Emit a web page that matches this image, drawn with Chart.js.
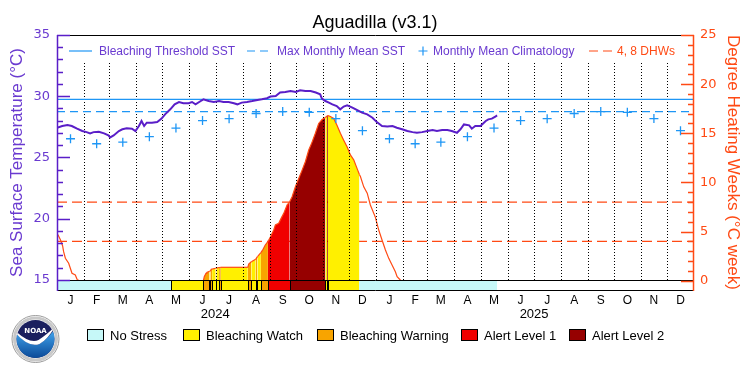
<!DOCTYPE html>
<html>
<head>
<meta charset="utf-8">
<script src="https://cdn.jsdelivr.net/npm/chart.js@4.4.0/dist/chart.umd.min.js"></script>
<style>
  html, body { margin: 0; padding: 0; background: #fff; }
  #wrap { width: 750px; height: 375px; }
</style>
</head>
<body>
<div id="wrap"><canvas id="chart" width="750" height="375"></canvas></div>
<script>
// Days are counted from 1 Jan 2024 (day 0); the axis covers 2024 and 2025.
const monthLetters = ['J', 'F', 'M', 'A', 'M', 'J', 'J', 'A', 'S', 'O', 'N', 'D'];
const years = ['2024', '2025'];

// Monthly mean climatology (°C), Jan..Dec
const climatology = [26.53, 26.12, 26.25, 26.70, 27.40, 28.01, 28.17, 28.59, 28.75, 28.69, 28.18, 27.19];
const maxMonthlyMean = 28.75;
const bleachingThreshold = 29.75;
const dhwLevels = [4, 8];

// Daily SST (°C): [day, value]
const sst = [
  [0, 27.43], [6, 27.57], [12, 27.65], [17, 27.57], [23, 27.35], [29, 27.16], [34, 27.07],
  [38, 26.97], [42, 27.07], [48, 27.10], [54, 26.97], [59, 26.80], [61, 26.64], [65, 26.80],
  [71, 27.16], [75, 27.30], [80, 27.38], [86, 27.35], [90, 27.16], [94, 27.57], [97, 27.98],
  [100, 27.57], [103, 27.84], [109, 27.84], [115, 27.89], [120, 28.17], [124, 28.52],
  [130, 28.93], [135, 29.34], [140, 29.53], [145, 29.43], [151, 29.43], [155, 29.53],
  [159, 29.34], [165, 29.61], [168, 29.75], [174, 29.61], [180, 29.53], [186, 29.61],
  [191, 29.53], [197, 29.53], [203, 29.43], [207, 29.34], [212, 29.48], [218, 29.53],
  [224, 29.61], [230, 29.70], [235, 29.75], [241, 29.84], [245, 29.98], [251, 30.02],
  [256, 30.30], [262, 30.35], [268, 30.43], [274, 30.35], [279, 30.49], [285, 30.43],
  [291, 30.43], [297, 30.30], [302, 30.16], [304, 29.81], [308, 29.61], [312, 29.48],
  [316, 29.34], [321, 29.20], [325, 28.93], [329, 29.16], [333, 29.26], [339, 29.07],
  [344, 28.88], [350, 28.66], [356, 28.52], [362, 28.25], [367, 27.89], [373, 27.57],
  [379, 27.52], [385, 27.57], [390, 27.43], [396, 27.30], [402, 27.16], [408, 27.07],
  [413, 27.02], [419, 27.07], [425, 27.16], [431, 27.24], [436, 27.16], [442, 27.24],
  [448, 27.24], [453, 27.16], [459, 27.02], [463, 27.30], [467, 27.70], [473, 27.62],
  [476, 27.35], [480, 27.57], [486, 27.57], [492, 27.98], [495, 28.11], [499, 28.17],
  [503, 28.33], [505, 28.44]
];

// Degree heating weeks (°C-weeks): [day, value]
const dhw = [
  [0, 4.75], [1.3, 4.64], [4, 4.14], [6.4, 3.56], [7.6, 2.95], [9.6, 2.28], [13.4, 1.77],
  [15.3, 1.26], [17.2, 0.75], [21, 0.58], [23, 0.14], [24, 0], [131, 0], [168, 0],
  [169, 0.4], [171, 0.75], [172, 0.85], [175, 0.95], [176, 0.98], [177, 1.16], [178, 1.18],
  [182, 1.26], [183, 1.28], [186, 1.34], [188, 1.36], [219, 1.36], [220, 1.7], [223, 1.93],
  [228, 2.17], [230, 2.45], [231, 2.54], [234, 2.85], [236.5, 3.19], [239, 3.63],
  [242, 3.96], [245, 4.47], [248.7, 5.15], [250.6, 5.66], [254.4, 5.83], [257.2, 6.34],
  [260.2, 6.85], [264, 7.69], [267, 8.03], [269.8, 8.54], [273.6, 9.55], [277.4, 10.4],
  [281.3, 11.25], [285, 12.1], [288.9, 13.3], [292.7, 14.1], [296.5, 15.0], [300.3, 16.0],
  [304.2, 16.4], [308, 16.6], [310, 16.75], [311, 16.8], [313.7, 16.7], [317.5, 16.5],
  [321.4, 15.8], [325.2, 15.0], [329, 14.3], [333, 13.6], [336.7, 12.8], [340.5, 12.3],
  [344.4, 11.4], [347, 10.8], [348.2, 10.6], [352, 9.55], [356, 8.9], [359.6, 7.7],
  [365.4, 6.44], [369.2, 5.15], [373, 4.14], [376.9, 3.12], [380.7, 2.27], [384.5, 1.6],
  [388.3, 0.91], [390.3, 0.4], [394, 0.07], [395, 0], [505, 0]
];

// Stress level per period: 0 no stress, 1 watch, 2 warning, 3 alert 1, 4 alert 2
const statusStart = [0, 131, 168, 175, 176, 178, 182, 183, 186, 188, 219, 223, 228, 230, 234, 242, 267, 308, 310, 311, 347];
const statusLevel = [0, 1, 2, 1, 2, 1, 2, 1, 2, 1, 2, 1, 2, 1, 2, 3, 4, 1, 4, 1, 0];
const dataEndDay = 505;

const statusNames = ['No Stress', 'Bleaching Watch', 'Bleaching Warning', 'Alert Level 1', 'Alert Level 2'];
const statusColors = ['#c6f8f8', '#fff000', '#f8a400', '#f00000', '#960000'];

const PURPLE = '#5a1ec8';
const PURPLE_TEXT = '#6a3ad0';
const BLUE = '#1e96f5';
const ORANGE = '#ff4a14';

// ---- helpers for the time axis ----
function dayOf(y, m) {
    return (Date.UTC(y, m, 1) - Date.UTC(2024, 0, 1)) / 864e5;
}
const monthStarts = [];
const monthMids = [];
[2024, 2025].forEach(y => {
    for (let m = 0; m < 12; m++) {
        const a = dayOf(y, m), b = dayOf(y, m + 1);
        monthStarts.push(a);
        monthMids.push((a + b) / 2);
    }
});
const totalDays = dayOf(2026, 0);

function levelAt(day) {
    let lvl = 0;
    for (let i = 0; i < statusStart.length; i++) {
        if (day >= statusStart[i]) lvl = statusLevel[i];
    }
    return lvl;
}

// ---- plugin: frame, ticks, dotted month lines, status bar, legends, logo ----
const decor = {
    id: 'decor',
    afterDatasetDraw(chart, args) {
        if (chart.data.datasets[args.index].label !== 'DHW') return;
        const {ctx, chartArea} = chart;
        const x = chart.scales.x;
        const yBar = Math.round(chart.scales.y.getPixelForValue(15));
        ctx.save();
        ctx.strokeStyle = '#000';
        ctx.lineWidth = 1;
        ctx.setLineDash([1, 2]);
        monthStarts.slice(1).forEach(d => {
            const px = Math.round(x.getPixelForValue(d)) + 0.5;
            ctx.beginPath();
            ctx.moveTo(px, chartArea.top + 28);
            ctx.lineTo(px, yBar);
            ctx.stroke();
        });
        ctx.restore();
    },
    afterDatasetsDraw(chart) {
        const {ctx, chartArea} = chart;
        const x = chart.scales.x, y = chart.scales.y, y2 = chart.scales.y2;
        const L = chartArea.left, R = chartArea.right, T = chartArea.top, B = chartArea.bottom;
        const yBar = Math.round(y.getPixelForValue(15));
        ctx.save();

        // status bar
        ctx.fillStyle = '#fff';
        ctx.fillRect(L, yBar, R - L, B - yBar);
        ctx.lineWidth = 1;
        ctx.strokeStyle = '#000';
        for (let i = 0; i < statusStart.length; i++) {
            const end = i + 1 < statusStart.length ? statusStart[i + 1] : dataEndDay;
            const x0 = Math.round(x.getPixelForValue(statusStart[i]));
            const x1 = Math.round(x.getPixelForValue(end));
            ctx.fillStyle = statusColors[statusLevel[i]];
            ctx.fillRect(x0, yBar, x1 - x0, B - yBar);
            if (statusLevel[i] > 0) ctx.strokeRect(x0 + 0.5, yBar + 0.5, x1 - x0, B - yBar);
        }
        ctx.beginPath();
        ctx.moveTo(L, yBar + 0.5);
        ctx.lineTo(R, yBar + 0.5);
        ctx.stroke();

        // frame
        ctx.beginPath();
        ctx.moveTo(L, T + 0.5); ctx.lineTo(R, T + 0.5);
        ctx.moveTo(L, B + 0.5); ctx.lineTo(R, B + 0.5);
        ctx.stroke();
        ctx.strokeStyle = PURPLE;
        ctx.lineWidth = 1.5;
        ctx.beginPath();
        ctx.moveTo(L + 0.5, T); ctx.lineTo(L + 0.5, B + 1);
        for (let v = 15; v <= 35; v++) {
            const py = Math.round(y.getPixelForValue(v)) + 0.5;
            ctx.moveTo(L, py);
            ctx.lineTo(L + (v % 5 === 0 ? 13 : 6), py);
        }
        ctx.stroke();
        ctx.strokeStyle = ORANGE;
        ctx.beginPath();
        ctx.moveTo(R - 0.5, T); ctx.lineTo(R - 0.5, B + 1);
        for (let v = 0; v <= 25; v++) {
            const py = Math.round(y2.getPixelForValue(v)) + 0.5;
            ctx.moveTo(R, py);
            ctx.lineTo(R - (v % 5 === 0 ? 13 : 6), py);
        }
        ctx.stroke();

        // legend inside the plot
        const ly = T + 16;
        ctx.font = '12px "Liberation Sans"';
        ctx.textBaseline = 'middle';
        ctx.lineWidth = 1.2;
        ctx.strokeStyle = BLUE;
        ctx.beginPath(); ctx.moveTo(69, ly); ctx.lineTo(92, ly); ctx.stroke();
        ctx.setLineDash([8, 5]);
        ctx.beginPath(); ctx.moveTo(247, ly); ctx.lineTo(268, ly); ctx.stroke();
        ctx.setLineDash([]);
        ctx.beginPath();
        ctx.moveTo(418.5, ly); ctx.lineTo(427.5, ly);
        ctx.moveTo(423, ly - 4.5); ctx.lineTo(423, ly + 4.5);
        ctx.stroke();
        ctx.strokeStyle = ORANGE;
        ctx.setLineDash([9, 5]);
        ctx.beginPath(); ctx.moveTo(589, ly); ctx.lineTo(613, ly); ctx.stroke();
        ctx.setLineDash([]);
        ctx.fillStyle = PURPLE_TEXT;
        ctx.fillText('Bleaching Threshold SST', 99, ly + 1);
        ctx.fillText('Max Monthly Mean SST', 277, ly + 1);
        ctx.fillText('Monthly Mean Climatology', 433, ly + 1);
        ctx.fillStyle = ORANGE;
        ctx.fillText('4, 8 DHWs', 617, ly + 1);
        ctx.restore();
    },
    afterDraw(chart) {
        const {ctx} = chart;
        ctx.save();
        // stress level legend
        const boxX = [87, 183, 317, 461, 569];
        ctx.font = '13px "Liberation Sans"';
        ctx.textBaseline = 'middle';
        ctx.lineWidth = 1;
        statusNames.forEach((name, i) => {
            ctx.fillStyle = statusColors[i];
            ctx.fillRect(boxX[i], 329, 16, 12);
            ctx.strokeStyle = '#000';
            ctx.strokeRect(boxX[i] + 0.5, 329.5, 16, 11);
            ctx.fillStyle = '#000';
            ctx.fillText(name, boxX[i] + 23, 336);
        });
        drawNoaa(ctx, 35.5, 339);
        ctx.restore();
    }
};

function drawNoaa(ctx, cx, cy) {
    ctx.save();
    ctx.beginPath();
    ctx.arc(cx, cy, 23.5, 0, Math.PI * 2);
    ctx.fillStyle = '#fff';
    ctx.fill();
    ctx.strokeStyle = '#9a9a9a';
    ctx.lineWidth = 1;
    ctx.stroke();
    ctx.beginPath();
    ctx.arc(cx, cy, 21, 0, Math.PI * 2);
    ctx.strokeStyle = '#c8c8c8';
    ctx.lineWidth = 3;
    ctx.stroke();
    ctx.beginPath();
    ctx.arc(cx, cy, 19, 0, Math.PI * 2);
    ctx.fillStyle = '#1b1f5e';
    ctx.fill();
    ctx.clip();
    const g = ctx.createLinearGradient(cx, cy - 6, cx, cy + 19);
    g.addColorStop(0, '#3d9de6');
    g.addColorStop(1, '#0b4a98');
    ctx.fillStyle = g;
    ctx.beginPath();
    ctx.moveTo(cx - 20, cy - 6);
    ctx.quadraticCurveTo(cx - 6, cy + 9, cx + 4, cy + 5);
    ctx.quadraticCurveTo(cx + 12, cy, cx + 20, cy - 11);
    ctx.lineTo(cx + 20, cy + 20);
    ctx.lineTo(cx - 20, cy + 20);
    ctx.closePath();
    ctx.fill();
    ctx.fillStyle = '#fff';
    ctx.beginPath();
    ctx.moveTo(cx - 20, cy - 8);
    ctx.quadraticCurveTo(cx - 6, cy + 5, cx + 3, cy + 1);
    ctx.quadraticCurveTo(cx + 11, cy - 4, cx + 20, cy - 13);
    ctx.quadraticCurveTo(cx + 12, cy + 1, cx + 4, cy + 5);
    ctx.quadraticCurveTo(cx - 7, cy + 9, cx - 20, cy - 6);
    ctx.closePath();
    ctx.fill();
    ctx.font = 'bold 7px "DejaVu Sans"';
    ctx.textAlign = 'center';
    ctx.textBaseline = 'middle';
    ctx.fillText('NOAA', cx, cy - 8);
    ctx.restore();
}

const hline = (value, axis) => [{x: 0, y: value}, {x: totalDays, y: value}];

const chart = new Chart(document.getElementById('chart'), {
    type: 'line',
    data: {
        datasets: [
            {
                label: '4 DHW', yAxisID: 'y2', data: hline(dhwLevels[0]), order: 7,
                borderColor: ORANGE, borderWidth: 1.2, borderDash: [10, 5], pointRadius: 0
            },
            {
                label: '8 DHW', yAxisID: 'y2', data: hline(dhwLevels[1]), order: 7,
                borderColor: ORANGE, borderWidth: 1.2, borderDash: [10, 5], pointRadius: 0
            },
            {
                label: 'DHW', yAxisID: 'y2', order: 5,
                data: dhw.map(([d, v]) => ({x: d, y: v})),
                borderColor: ORANGE, borderWidth: 1.2, pointRadius: 0,
                backgroundColor: 'rgba(0,0,0,0)',
                fill: 'origin',
                segment: {
                    backgroundColor: c => {
                        const lvl = levelAt(dhw[c.p0DataIndex][0]);
                        return lvl === 0 ? 'rgba(0,0,0,0)' : statusColors[lvl];
                    }
                }
            },
            {
                label: 'Bleaching Threshold SST', yAxisID: 'y', data: hline(bleachingThreshold), order: 4,
                borderColor: BLUE, borderWidth: 1.2, pointRadius: 0
            },
            {
                label: 'Max Monthly Mean SST', yAxisID: 'y', data: hline(maxMonthlyMean), order: 3,
                borderColor: BLUE, borderWidth: 1.2, borderDash: [8, 5], pointRadius: 0
            },
            {
                label: 'Monthly Mean Climatology', yAxisID: 'y', order: 2,
                data: monthMids.map((d, i) => ({x: d, y: climatology[i % 12]})),
                showLine: false, pointStyle: 'cross', pointRadius: 4.5,
                pointBorderColor: BLUE, pointBorderWidth: 1.3
            },
            {
                label: 'SST', yAxisID: 'y', order: 1,
                data: sst.map(([d, v]) => ({x: d, y: v})),
                borderColor: PURPLE, borderWidth: 2, pointRadius: 0
            }
        ]
    },
    options: {
        responsive: false,
        animation: false,
        layout: {padding: {left: 0, right: 0, top: 0, bottom: 50}},
        plugins: {
            legend: {display: false},
            tooltip: {enabled: false},
            title: {
                display: true,
                text: 'Aguadilla (v3.1)',
                color: '#000',
                font: {family: 'Liberation Sans', size: 18, weight: 'normal'},
                padding: {top: 12, bottom: 1.4}
            }
        },
        scales: {
            x: {
                type: 'linear', min: 0, max: totalDays, weight: 0,
                afterBuildTicks: s => { s.ticks = monthMids.map(v => ({value: v})); },
                afterFit: s => { s.height = 17; },
                grid: {display: false, drawTicks: false},
                border: {display: false},
                ticks: {
                    color: '#000', padding: 3, maxRotation: 0, autoSkip: false,
                    font: {family: 'Liberation Sans', size: 12},
                    callback: (v, i) => monthLetters[i % 12]
                }
            },
            xYear: {
                type: 'linear', position: 'bottom', min: 0, max: totalDays, weight: 1,
                afterBuildTicks: s => { s.ticks = [dayOf(2024, 6) - 0.5, dayOf(2025, 6) + 0.5].map(v => ({value: v})); },
                afterFit: s => { s.height = 18; },
                grid: {display: false, drawTicks: false},
                border: {display: false},
                ticks: {
                    color: '#000', padding: 0, maxRotation: 0, autoSkip: false,
                    font: {family: 'Liberation Sans', size: 13},
                    callback: (v, i) => years[i]
                }
            },
            y: {
                type: 'linear', position: 'left', min: 14.18, max: 35,
                afterBuildTicks: s => { s.ticks = [15, 20, 25, 30, 35].map(v => ({value: v})); },
                afterFit: s => { s.width = 57; },
                grid: {display: false, drawTicks: false},
                border: {display: false},
                ticks: {color: PURPLE_TEXT, padding: 7, font: {family: 'DejaVu Sans', size: 13}},
                title: {
                    display: true, text: 'Sea Surface Temperature (°C)', color: PURPLE_TEXT,
                    font: {family: 'Liberation Sans', size: 17}, padding: {top: 7, bottom: 0}
                }
            },
            y2: {
                type: 'linear', position: 'right', min: -0.95, max: 25,
                afterBuildTicks: s => { s.ticks = [0, 5, 10, 15, 20, 25].map(v => ({value: v})); },
                afterFit: s => { s.width = 56; },
                grid: {display: false, drawTicks: false},
                border: {display: false},
                ticks: {color: ORANGE, padding: 6, font: {family: 'DejaVu Sans', size: 13}},
                title: {
                    display: true, text: 'Degree Heating Weeks (°C week)', color: ORANGE,
                    font: {family: 'Liberation Sans', size: 17}, padding: {top: 7, bottom: 0}
                }
            }
        }
    },
    plugins: [decor]
});
</script>
</body>
</html>
